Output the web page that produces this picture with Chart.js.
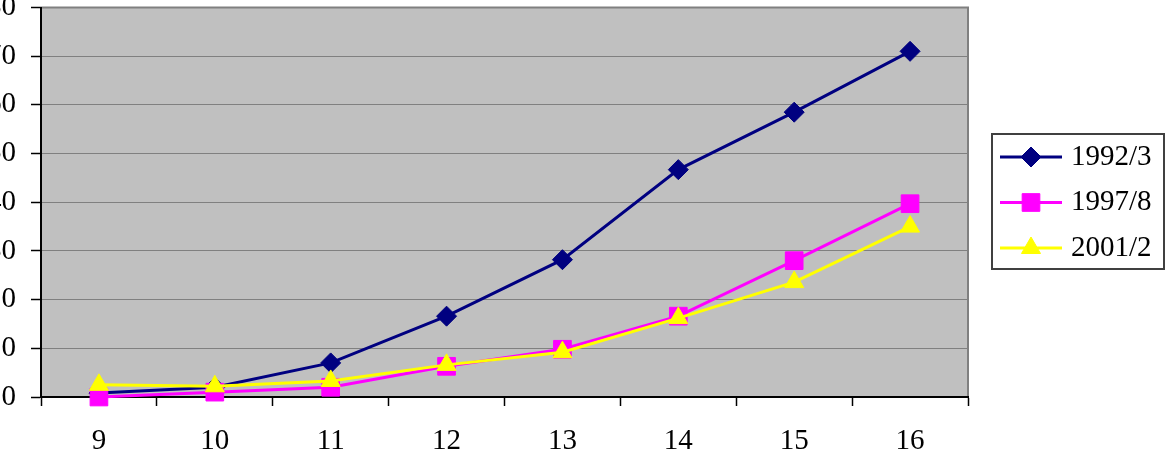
<!DOCTYPE html>
<html>
<head>
<meta charset="utf-8">
<script src="https://cdn.jsdelivr.net/npm/chart.js@4.4.1/dist/chart.umd.min.js"></script>
<style>
    html, body { margin: 0; padding: 0; background: #fff; overflow: hidden; }
    #wrap { position: relative; width: 1168px; height: 474px; overflow: hidden; }
    /* canvas is pushed left so the y labels get cut at the page edge, like the original */
    #chart { position: absolute; left: -30px; top: 0; }
</style>
</head>
<body>
<div id="wrap">
    <canvas id="chart" width="1198" height="474"></canvas>
</div>
<script>
const ages = ['9', '10', '11', '12', '13', '14', '15', '16'];
const seriesNames = ['1992/3', '1997/8', '2001/2'];
const values1992 = [0.8, 2.0, 7.0, 16.6, 28.2, 46.7, 58.5, 71.0];
const values1997 = [0.0, 1.0, 2.0, 6.3, 9.8, 16.6, 28.0, 39.7];
const values2001 = [2.5, 2.2, 3.3, 6.6, 9.2, 16.2, 23.6, 35.0];
const yTicks = [0, 10, 20, 30, 40, 50, 60, 70, 80];

const serif = '"Liberation Serif", "Times New Roman", serif';
const shift = 30;

// grey plot background + frame
const plotBackground = {
    id: 'plotBackground',
    beforeDraw(chart) {
        const { ctx, chartArea: a } = chart;
        ctx.save();
        ctx.fillStyle = '#c0c0c0';
        ctx.fillRect(a.left, a.top, a.right - a.left, a.bottom - a.top);
        ctx.strokeStyle = '#808080';
        ctx.lineWidth = 2;
        ctx.strokeRect(a.left, a.top, a.right - a.left, a.bottom - a.top);
        ctx.restore();
    }
};

// boxed legend on the right
const boxLegend = {
    id: 'boxLegend',
    afterDraw(chart) {
        const ctx = chart.ctx;
        const left = 992 + shift, top = 134, right = 1164 + shift, bottom = 269;
        ctx.save();
        ctx.strokeStyle = '#404040';
        ctx.lineWidth = 2;
        ctx.strokeRect(left, top, right - left, bottom - top);
        chart.data.datasets.forEach((ds, i) => {
            const y = 157 + i * 45.5;
            ctx.strokeStyle = ds.borderColor;
            ctx.lineWidth = ds.borderWidth;
            ctx.beginPath();
            ctx.moveTo(1000 + shift, y);
            ctx.lineTo(1062 + shift, y);
            ctx.stroke();
            ctx.fillStyle = ds.pointBackgroundColor;
            ctx.strokeStyle = ds.pointBorderColor;
            ctx.lineWidth = 1;
            Chart.helpers.drawPoint(ctx, {
                pointStyle: ds.pointStyle,
                radius: ds.pointRadius,
                borderWidth: 1,
                rotation: 0
            }, 1031 + shift, y);
            ctx.fillStyle = '#000';
            ctx.font = '29px ' + serif;
            ctx.textAlign = 'left';
            ctx.textBaseline = 'middle';
            ctx.fillText(ds.label, 1071 + shift, y);
        });
        ctx.restore();
    }
};

const ctx = document.getElementById('chart').getContext('2d');
new Chart(ctx, {
    type: 'line',
    data: {
        labels: ages,
        datasets: [
            {
                label: seriesNames[0],
                data: values1992,
                borderColor: '#000080',
                borderWidth: 3,
                pointStyle: 'rectRot',
                pointRadius: 10,
                pointBackgroundColor: '#000080',
                pointBorderColor: '#000080',
                pointBorderWidth: 1,
                order: 2,
                clip: false
            },
            {
                label: seriesNames[1],
                data: values1997,
                borderColor: '#ff00ff',
                borderWidth: 3,
                pointStyle: 'rect',
                pointRadius: 12.5,
                pointBackgroundColor: '#ff00ff',
                pointBorderColor: '#ff00ff',
                pointBorderWidth: 1,
                order: 1,
                clip: false
            },
            {
                label: seriesNames[2],
                data: values2001,
                borderColor: '#ffff00',
                borderWidth: 3,
                pointStyle: 'triangle',
                pointRadius: 11,
                pointBackgroundColor: '#ffff00',
                pointBorderColor: '#ffff00',
                pointBorderWidth: 1,
                order: 0,
                clip: false
            }
        ]
    },
    options: {
        responsive: false,
        animation: false,
        tension: 0,
        layout: {
            autoPadding: false,
            padding: { top: 7.5, right: 200, bottom: 0, left: 0 }
        },
        plugins: {
            legend: { display: false },
            tooltip: { enabled: false }
        },
        scales: {
            x: {
                type: 'category',
                offset: true,
                afterFit: scale => {
                    scale.height = 77;
                    scale.paddingLeft = 0;
                    scale.paddingRight = 0;
                },
                grid: {
                    offset: true,
                    drawOnChartArea: false,
                    tickLength: 9,
                    tickColor: '#000',
                    tickWidth: 1.5
                },
                border: { color: '#000', width: 2 },
                ticks: {
                    color: '#000',
                    padding: 18,
                    maxRotation: 0,
                    font: { family: serif, size: 29 }
                }
            },
            y: {
                min: 0,
                max: 80,
                afterFit: scale => {
                    scale.width = 71;
                    scale.paddingTop = 0;
                    scale.paddingBottom = 0;
                },
                afterBuildTicks: scale => { scale.ticks = yTicks.map(v => ({ value: v })); },
                grid: {
                    color: '#808080',
                    lineWidth: 1,
                    tickLength: 10,
                    tickColor: '#000',
                    tickWidth: 1.5
                },
                border: { color: '#000', width: 2 },
                ticks: {
                    color: '#000',
                    padding: 15,
                    font: { family: serif, size: 29 }
                }
            }
        }
    },
    plugins: [plotBackground, boxLegend]
});
</script>
</body>
</html>
